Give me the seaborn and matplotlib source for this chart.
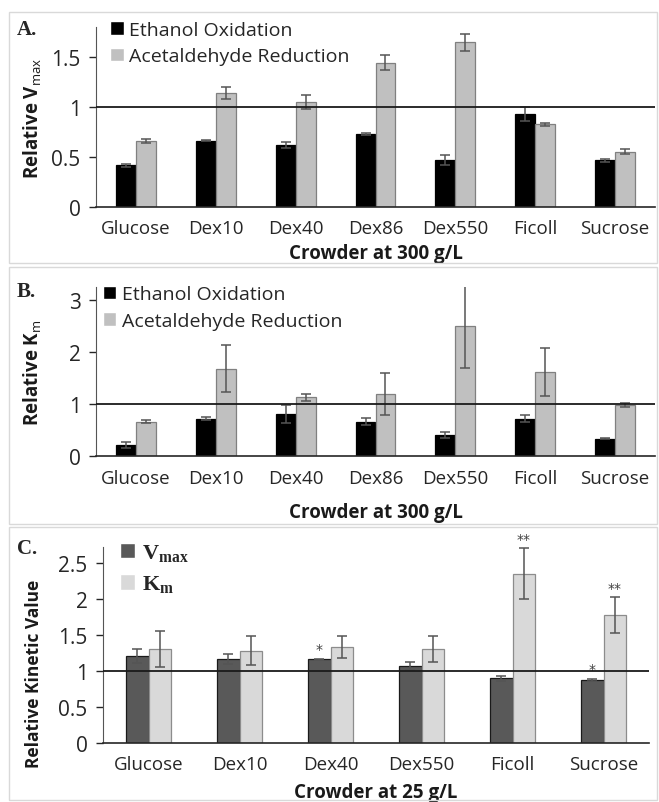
import numpy as np
import pandas as pd
import matplotlib
matplotlib.use("Agg")
import matplotlib.pyplot as plt
from matplotlib.patches import Rectangle
from matplotlib.ticker import FuncFormatter
import seaborn as sns

# ---- data ----
crowders_300 = ["Glucose", "Dex10", "Dex40", "Dex86", "Dex550", "Ficoll", "Sucrose"]
series_300 = ["Ethanol Oxidation", "Acetaldehyde Reduction"]

vmax_etoh = [0.42, 0.665, 0.62, 0.73, 0.47, 0.93, 0.47]
vmax_etoh_err = [0.015, 0.005, 0.03, 0.01, 0.05, 0.07, 0.015]
vmax_acet = [0.665, 1.14, 1.05, 1.445, 1.65, 0.83, 0.555]
vmax_acet_err = [0.02, 0.06, 0.075, 0.075, 0.085, 0.015, 0.025]

km_etoh = [0.21, 0.72, 0.81, 0.66, 0.40, 0.72, 0.335]
km_etoh_err = [0.055, 0.03, 0.17, 0.065, 0.055, 0.06, 0.01]
km_acet = [0.66, 1.68, 1.13, 1.19, 2.50, 1.61, 0.98]
km_acet_err = [0.025, 0.45, 0.065, 0.40, 0.81, 0.46, 0.03]

crowders_25 = ["Glucose", "Dex10", "Dex40", "Dex550", "Ficoll", "Sucrose"]
series_25 = ["V$_{\\mathbf{max}}$", "K$_{\\mathbf{m}}$"]
vmax_25 = [1.21, 1.16, 1.16, 1.07, 0.90, 0.875]
vmax_25_err = [0.10, 0.07, 0.01, 0.06, 0.035, 0.01]
km_25 = [1.30, 1.28, 1.33, 1.30, 2.35, 1.77]
km_25_err = [0.25, 0.20, 0.15, 0.18, 0.35, 0.25]

# significance marks: (crowder, series index, label)
stars = [("Dex40", 0, "*"), ("Ficoll", 1, "**"), ("Sucrose", 0, "*"), ("Sucrose", 1, "**")]

# ---- style ----
sns.set_style("white")
plt.rcParams["font.family"] = ["Open Sans", "DejaVu Sans"]
plt.rcParams["mathtext.fontset"] = "custom"
plt.rcParams["mathtext.rm"] = "Open Sans"
plt.rcParams["mathtext.bf"] = "Liberation Serif:bold"
plt.rcParams["mathtext.it"] = "Open Sans:italic"

W, H = 659, 803
fig = plt.figure(figsize=(W / 100, H / 100), dpi=100)


def px_axes(left, top, right, bottom):
    return fig.add_axes([left / W, 1 - bottom / H, (right - left) / W, (bottom - top) / H])


def bar_panel(ax, cats, names, vals, errs, colors, edges):
    df = pd.DataFrame({
        "crowder": np.tile(cats, len(names)),
        "series": np.repeat(names, len(cats)),
        "value": np.concatenate(vals),
    })
    sns.barplot(data=df, x="crowder", y="value", hue="series", order=cats,
                hue_order=names, palette=colors, width=0.5, errorbar=None,
                saturation=1, ax=ax)
    tops = []
    for cont, err, ec in zip(ax.containers, errs, edges):
        xs = [p.get_x() + p.get_width() / 2 for p in cont]
        ys = [p.get_height() for p in cont]
        for p in cont:
            p.set_edgecolor(ec)
            p.set_linewidth(0.9)
        ax.errorbar(xs, ys, yerr=err, fmt="none", ecolor="#555555",
                    elinewidth=1.1, capsize=3.5, capthick=1.1, zorder=5)
        tops.append((xs, [y + e for y, e in zip(ys, err)]))
    ax.axhline(1, color="#1a1a1a", lw=1.3, zorder=6)
    sns.despine(ax=ax)
    ax.spines["left"].set_color("#555555")
    ax.spines["bottom"].set_color("#262626")
    ax.spines["bottom"].set_linewidth(1.2)
    ax.set_xlim(-0.5, len(cats) - 0.5)
    ax.tick_params(axis="x", length=0, labelsize=13.5, colors="#262626", pad=9)
    ax.tick_params(axis="y", length=5, width=1, direction="out", labelsize=15,
                   colors="#262626", left=True, pad=6)
    ax.yaxis.set_major_formatter(FuncFormatter(lambda v, p: f"{v:g}"))
    return tops


fmt_lab = dict(fontsize=13.5, fontweight="bold", color="#1a1a1a")

# ---- panel A ----
axA = px_axes(96, 28, 655, 208)
bar_panel(axA, crowders_300, series_300, [vmax_etoh, vmax_acet],
          [vmax_etoh_err, vmax_acet_err], ["#000000", "#c0c0c0"], ["#000000", "#808080"])
axA.set_ylim(0, 1.8)
axA.set_yticks([0, 0.5, 1, 1.5])
axA.set_xlabel("Crowder at 300 g/L", **fmt_lab)
axA.set_ylabel("Relative V$_{\\mathrm{max}}$", **fmt_lab)
axA.xaxis.set_label_coords(0.5, -0.2)
axA.yaxis.set_label_coords(-0.095, 0.5)

# ---- panel B ----
axB = px_axes(96, 288, 655, 457)
bar_panel(axB, crowders_300, series_300, [km_etoh, km_acet],
          [km_etoh_err, km_acet_err], ["#000000", "#c0c0c0"], ["#000000", "#808080"])
axB.set_ylim(0, 3.25)
axB.set_yticks([0, 1, 2, 3])
axB.set_xlabel("Crowder at 300 g/L", **fmt_lab)
axB.set_ylabel("Relative K$_{\\mathrm{m}}$", **fmt_lab)
axB.xaxis.set_label_coords(0.5, -0.27)
axB.yaxis.set_label_coords(-0.095, 0.5)

# ---- panel C ----
axC = px_axes(103, 548, 649, 744)
topsC = bar_panel(axC, crowders_25, series_25, [vmax_25, km_25],
                  [vmax_25_err, km_25_err], ["#595959", "#d9d9d9"], ["#1a1a1a", "#8c8c8c"])
axC.set_ylim(0, 2.72)
axC.set_yticks([0, 0.5, 1, 1.5, 2, 2.5])
axC.set_xlabel("Crowder at 25 g/L", **fmt_lab)
axC.set_ylabel("Relative Kinetic Value", fontsize=12.5, fontweight="bold", color="#1a1a1a")
axC.xaxis.set_label_coords(0.5, -0.2)
axC.yaxis.set_label_coords(-0.11, 0.36)
for cat, s, lab in stars:
    i = crowders_25.index(cat)
    xs, ys = topsC[s]
    axC.text(xs[i], ys[i] + 0.04, lab, ha="center", va="bottom", fontsize=10,
             color="#404040", family="DejaVu Sans")

# ---- legends ----
for ax, anchor, fam, size in [(axA, (0.025, 1.035), "Open Sans", 14),
                              (axB, (0.012, 1.01), "Open Sans", 14),
                              (axC, (0.031, 1.025), "Liberation Serif", 16)]:
    h, l = ax.get_legend_handles_labels()
    prop = {"family": fam, "size": size}
    if fam != "Open Sans":
        prop["weight"] = "bold"
    ax.legend(h, l, loc="upper left", bbox_to_anchor=anchor, frameon=False,
              prop=prop, handlelength=0.7, handleheight=0.7, handletextpad=0.3,
              labelspacing=0.45, borderaxespad=0, borderpad=0)

# ---- panel letters and frames ----
for letter, y in [("A.", 30), ("B.", 292), ("C.", 549)]:
    fig.text(17 / W, 1 - y / H, letter, family="Liberation Serif", fontweight="bold",
             fontsize=15, va="center", ha="left")
for top, bottom in [(13, 264), (268, 525), (528, 801)]:
    fig.patches.append(Rectangle((9 / W, 1 - bottom / H), 648 / W, (bottom - top) / H,
                                 transform=fig.transFigure, fill=False,
                                 edgecolor="#d9d9d9", lw=1))

fig.savefig("out.png", dpi=100)
